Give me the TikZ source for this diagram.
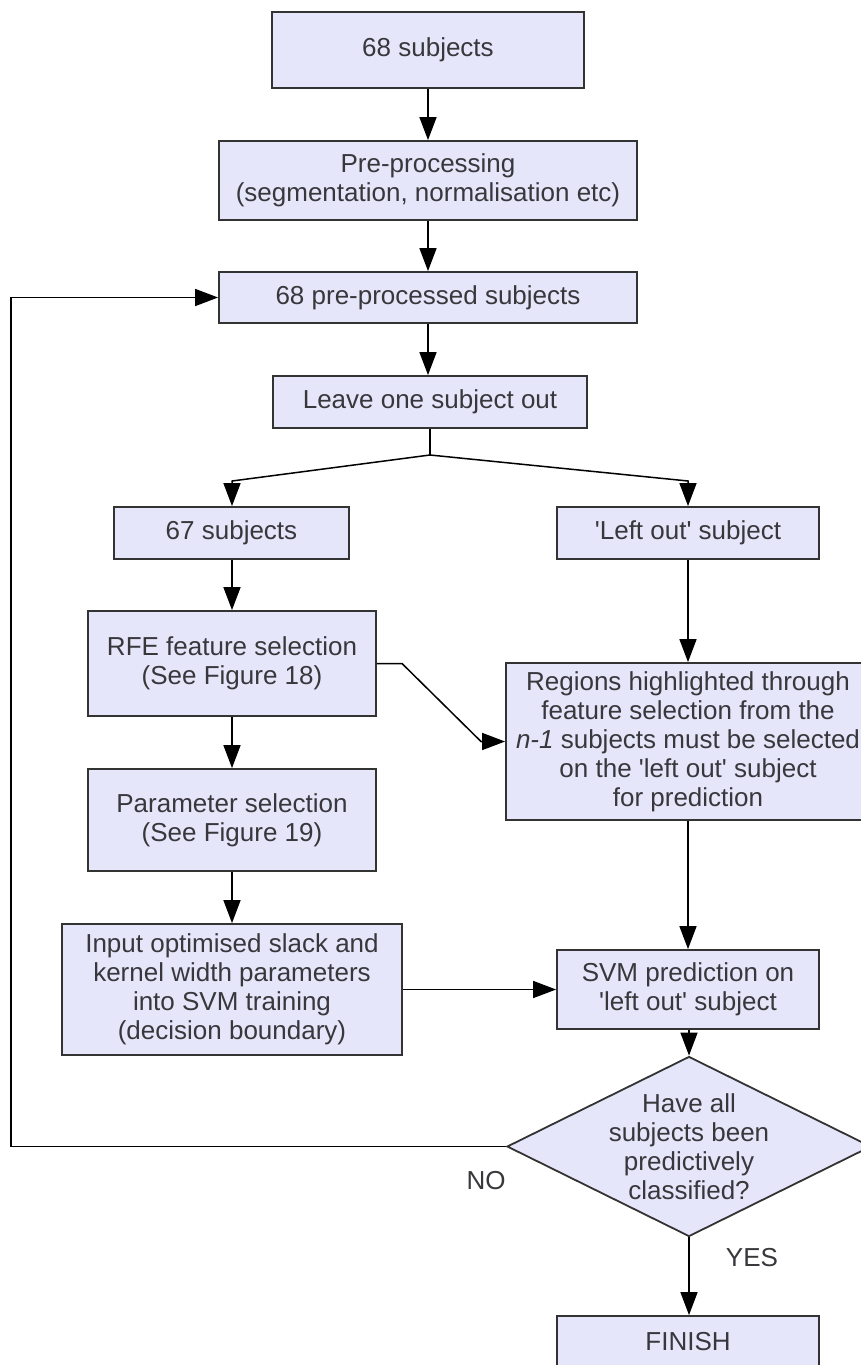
\documentclass[tikz,border=0pt]{standalone}
\usepackage{fontspec}
\setmainfont{Liberation Sans}[Ligatures=TeXOff]
\usetikzlibrary{arrows.meta,shapes.geometric}
\definecolor{boxfill}{RGB}{230,230,250}
\definecolor{boxline}{RGB}{51,51,51}
\definecolor{txt}{RGB}{55,55,60}
\tikzset{
  flowbox/.style={draw=boxline, fill=boxfill, line width=1.8pt, rectangle, inner sep=0pt,
    align=center, text=txt, font=\fontsize{26}{29}\selectfont},
  decbox/.style={draw=boxline, fill=boxfill, line width=1.8pt, diamond, inner sep=0pt,
    minimum width=364pt, minimum height=180pt},
  lbl/.style={text=txt, font=\fontsize{26}{29}\selectfont, align=center, inner sep=0pt},
  conn/.style={draw=black, line width=1.5pt, -{Triangle[length=23pt,width=17pt]}},
  plain/.style={draw=black, line width=1.5pt}
}
\begin{document}
\begin{tikzpicture}[x=1pt,y=-1pt]
\useasboundingbox (0,0) rectangle (861,1365);
\fill[white] (0,0) rectangle (861,1365);

\node[flowbox, minimum width=312pt, minimum height=76pt] (n1) at (428,50) {68 subjects};
\node[flowbox, minimum width=418pt, minimum height=79pt] (n2) at (428,180.5) {Pre-processing\\(segmentation, normalisation etc)};
\node[flowbox, minimum width=418pt, minimum height=51pt] (n3) at (428,297.5) {68 pre-processed subjects};
\node[flowbox, minimum width=314pt, minimum height=52pt] (n4) at (430,402) {Leave one subject out};
\node[flowbox, minimum width=235pt, minimum height=52pt] (n5) at (231.5,533) {67 subjects};
\node[flowbox, minimum width=262pt, minimum height=52pt] (n6) at (688,533) {'Left out' subject};
\node[flowbox, minimum width=288pt, minimum height=105pt] (n7) at (232,663.5) {RFE feature selection\\(See Figure 18)};
\node[flowbox, minimum width=364pt, minimum height=157pt] (n8) at (688,741.5) {Regions highlighted through\\feature selection from the\\\textit{n-1} subjects must be selected\\on the 'left out' subject\\for prediction};
\node[flowbox, minimum width=288pt, minimum height=102pt] (n9) at (232,820) {Parameter selection\\(See Figure 19)};
\node[flowbox, minimum width=340pt, minimum height=131pt] (n10) at (232,989.5) {Input optimised slack and\\kernel width parameters\\into SVM training\\(decision boundary)};
\node[flowbox, minimum width=262pt, minimum height=79pt] (n11) at (688,989.5) {SVM prediction on\\'left out' subject};
\node[decbox] (n12) at (689,1146.5) {};
\node[lbl] (n12t) at (689,1146.5) {Have all\\subjects been\\predictively\\classified?};
\node[flowbox, minimum width=262pt, minimum height=52pt] (n13) at (688,1342) {FINISH};

\node[lbl] (no) at (486,1181) {NO};
\node[lbl] (yes) at (752,1258) {YES};

\coordinate (split) at (430,455);
\coordinate (bl) at (232,481);
\coordinate (br) at (688,481);
\coordinate (rfeout) at (402,663.5);
\coordinate (rfediag) at (481,741.5);
\coordinate (loopa) at (11,1146.5);
\coordinate (loopb) at (11,297.5);

\draw[conn] (n1.south) -- (n2.north);
\draw[conn] (n2.south) -- (n3.north);
\draw[conn] (n3.south) -- (n3.south |- n4.north);
\draw[plain] (n4.south) -- (split);
\draw[conn] (split) -- (bl) -- (n5.north -| bl);
\draw[conn] (split) -- (br) -- (n6.north);
\draw[conn] (n5.south -| n7.north) -- (n7.north);
\draw[conn] (n6.south) -- (n8.north);
\draw[conn] (n7.east) -- (rfeout) -- (rfediag) -- (n8.west);
\draw[conn] (n7.south) -- (n9.north);
\draw[conn] (n9.south) -- (n10.north);
\draw[conn] (n8.south) -- (n11.north);
\draw[conn] (n10.east) -- (n11.west);
\draw[conn] (n11.south -| n12.north) -- (n12.north);
\draw[conn] (n12.west) -- (loopa) -- (loopb) -- (n3.west);
\draw[conn] (n12.south) -- (n13.north -| n12.south);
\end{tikzpicture}
\end{document}
